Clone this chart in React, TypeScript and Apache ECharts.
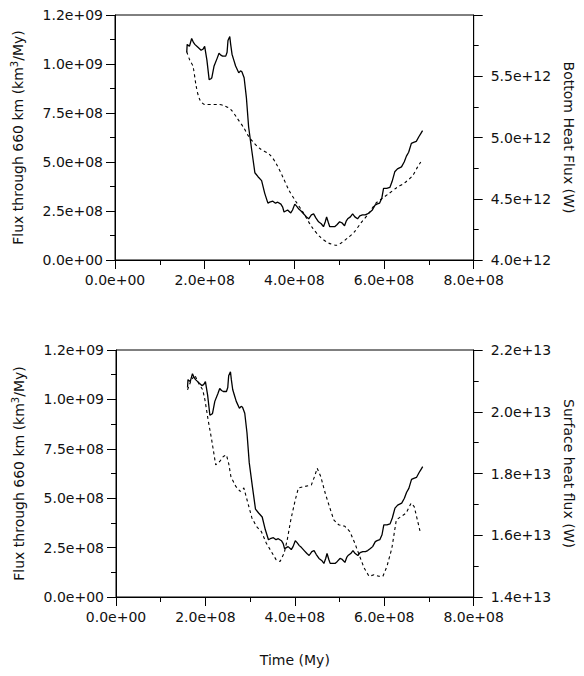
import React, { useEffect, useRef } from "react";
import * as echarts from "echarts";

// Time axis values (units of 1e8 My) for the flux-through-660-km curve
const SOLID_T = [1.60,1.61,1.66,1.71,1.75,1.78,1.85,1.92,1.96,2.00,2.05,2.10,2.14,2.16,2.21,2.28,2.32,2.36,2.40,2.47,2.50,2.52,2.56,2.58,2.61,2.65,2.69,2.76,2.80,2.83,2.88,2.93,2.98,3.05,3.12,3.19,3.27,3.34,3.41,3.45,3.52,3.58,3.63,3.70,3.74,3.77,3.85,3.92,3.96,4.01,4.05,4.10,4.15,4.21,4.27,4.32,4.38,4.43,4.48,4.54,4.60,4.65,4.69,4.72,4.76,4.79,4.85,4.90,4.95,5.01,5.06,5.12,5.16,5.19,5.25,5.30,5.35,5.41,5.46,5.52,5.58,5.63,5.69,5.74,5.80,5.84,5.90,5.95,5.99,6.06,6.13,6.18,6.24,6.30,6.39,6.45,6.50,6.55,6.61,6.66,6.72,6.78,6.82,6.86];
// Flux through 660 km (units of 1e8 km^3/My)
const SOLID_FLUX = [10.6,11.0,10.9,11.3,11.1,11.0,10.85,10.7,10.75,10.9,10.2,9.2,9.25,9.3,9.9,10.3,10.55,10.45,10.4,10.4,10.6,11.2,11.4,11.0,10.5,10.2,9.9,9.55,9.65,9.6,9.3,8.3,6.8,5.6,4.45,4.25,4.05,3.4,2.9,2.95,3.0,2.9,2.95,2.85,2.7,2.45,2.55,2.4,2.55,2.85,2.75,2.6,2.5,2.35,2.2,2.1,2.3,2.35,2.15,1.95,1.85,1.7,1.95,2.2,1.9,1.7,1.7,1.7,1.8,1.95,1.9,1.75,2.0,2.1,2.2,2.35,2.2,2.1,2.25,2.3,2.3,2.35,2.45,2.55,2.8,2.85,2.9,3.15,3.65,3.65,3.7,4.0,4.5,4.65,4.75,5.0,5.3,5.5,5.95,6.0,6.05,6.3,6.45,6.6];

// Bottom heat flux (top panel, dashed): time (1e8 My), value (1e12 W)
const BOTTOM_T = [1.60,1.67,1.74,1.81,1.89,2.00,2.14,2.29,2.43,2.58,2.72,2.87,2.98,3.09,3.23,3.45,3.59,3.74,3.88,4.03,4.21,4.39,4.57,4.76,4.94,5.05,5.19,5.34,5.48,5.66,5.81,5.95,6.10,6.28,6.46,6.64,6.75,6.82];
const BOTTOM_HF = [5.70,5.63,5.58,5.42,5.31,5.27,5.27,5.27,5.26,5.23,5.16,5.08,5.01,4.96,4.91,4.86,4.79,4.68,4.57,4.48,4.38,4.27,4.19,4.14,4.12,4.14,4.18,4.23,4.30,4.38,4.46,4.50,4.54,4.59,4.63,4.69,4.76,4.80];

// Surface heat flux (bottom panel, dashed): time (1e8 My), value (1e13 W)
const SURFACE_T = [1.60,1.67,1.76,1.85,1.94,1.99,2.06,2.14,2.23,2.32,2.40,2.47,2.52,2.57,2.68,2.78,2.86,2.93,3.04,3.14,3.25,3.36,3.47,3.58,3.67,3.76,3.83,3.91,4.01,4.08,4.22,4.37,4.44,4.50,4.58,4.68,4.76,4.87,4.98,5.12,5.23,5.34,5.45,5.55,5.66,5.77,5.88,5.97,6.06,6.17,6.27,6.38,6.49,6.60,6.67,6.74,6.81];
const SURFACE_HF = [2.071,2.098,2.119,2.092,2.071,2.038,1.974,1.909,1.828,1.839,1.855,1.860,1.833,1.790,1.758,1.742,1.753,1.715,1.656,1.629,1.612,1.575,1.548,1.521,1.515,1.542,1.585,1.650,1.715,1.753,1.758,1.763,1.790,1.817,1.790,1.736,1.699,1.650,1.634,1.629,1.612,1.575,1.532,1.494,1.467,1.472,1.467,1.467,1.499,1.558,1.650,1.661,1.672,1.704,1.693,1.650,1.607];

// Tick values and labels
const X_TICKS = [0, 2e8, 4e8, 6e8, 8e8];
const X_LABELS = ["0.0e+00", "2.0e+08", "4.0e+08", "6.0e+08", "8.0e+08"];
const LEFT_TICKS = [0, 2.5e8, 5e8, 7.5e8, 1e9, 1.25e9];
const LEFT_LABELS = ["0.0e+00", "2.5e+08", "5.0e+08", "7.5e+08", "1.0e+09", "1.2e+09"];
const BHF_TICKS = [4e12, 4.5e12, 5e12, 5.5e12];
const BHF_LABELS = ["4.0e+12", "4.5e+12", "5.0e+12", "5.5e+12"];
const SHF_TICKS = [1.4e13, 1.6e13, 1.8e13, 2.0e13, 2.2e13];
const SHF_LABELS = ["1.4e+13", "1.6e+13", "1.8e+13", "2.0e+13", "2.2e+13"];

const FONT = "DejaVu Sans";
const INK = "#111";
const FS = 14;

function lookup(vals: number[], labels: string[]) {
  return (v: number) => {
    for (let i = 0; i < vals.length; i++) {
      const tol = Math.max(Math.abs(vals[i]), 1) * 1e-6 + 1e-6 * Math.abs(vals[vals.length - 1]);
      if (Math.abs(vals[i] - v) <= tol) return labels[i];
    }
    return "";
  };
}

function pairs(t: number[], v: number[], tScale: number, vScale: number) {
  return t.map((x, i) => [x * tScale, v[i] * vScale]);
}

const axisCommon = {
  axisLine: { show: true, onZero: false, lineStyle: { color: "#000", width: 1 } },
  axisTick: { show: true, length: 9, lineStyle: { color: "#000", width: 1 } },
  minorTick: { show: true, splitNumber: 2, length: 5, lineStyle: { color: "#000", width: 1 } },
  splitLine: { show: false },
  minorSplitLine: { show: false },
};

const labelStyle = { color: INK, fontSize: FS, fontFamily: FONT };

export default function App() {
  const ref = useRef<HTMLDivElement>(null);
  useEffect(() => {
    if (!ref.current) return;
    const chart = echarts.init(ref.current, null, { renderer: "svg" });
    const xAxis = (gridIndex: number, extra: any = {}) => ({
      gridIndex,
      type: "value",
      min: 0,
      max: 8e8,
      interval: 2e8,
      ...axisCommon,
      axisLabel: { ...labelStyle, margin: 13, formatter: lookup(X_TICKS, X_LABELS) },
      ...extra,
    });
    const leftName = "Flux through 660 km (km{sup|3}/My)";
    const leftAxis = (gridIndex: number) => ({
      gridIndex,
      type: "value",
      position: "left",
      min: 0,
      max: 1.25e9,
      interval: 2.5e8,
      ...axisCommon,
      axisLabel: { ...labelStyle, margin: 12, formatter: lookup(LEFT_TICKS, LEFT_LABELS) },
      name: leftName,
      nameLocation: "middle",
      nameGap: 89,
      nameRotate: 90,
      nameTextStyle: {
        color: INK,
        fontSize: FS,
        fontFamily: FONT,
        rich: { sup: { fontSize: 10, fontFamily: FONT, color: INK, padding: [0, 0, 7, 0] } },
      },
    });
    const option: any = {
      animation: false,
      textStyle: { fontFamily: FONT },
      grid: [
        { left: 115, top: 15, width: 367, height: 245, show: true, borderColor: "#000", borderWidth: 1, backgroundColor: "transparent" },
        { left: 116, top: 350, width: 371, height: 247, show: true, borderColor: "#000", borderWidth: 1, backgroundColor: "transparent" },
      ],
      xAxis: [
        xAxis(0),
        xAxis(1, {
          name: "Time (My)",
          nameLocation: "middle",
          nameGap: 56,
          nameTextStyle: { color: INK, fontSize: FS, fontFamily: FONT },
        }),
      ],
      yAxis: [
        leftAxis(0),
        {
          gridIndex: 0,
          type: "value",
          position: "right",
          min: 4e12,
          max: 6e12,
          interval: 5e11,
          ...axisCommon,
          axisLabel: { ...labelStyle, margin: 17, formatter: lookup(BHF_TICKS, BHF_LABELS) },
          name: "Bottom Heat Flux (W)",
          nameLocation: "middle",
          nameGap: 84,
          nameRotate: -90,
          nameTextStyle: { color: INK, fontSize: FS, fontFamily: FONT },
        },
        leftAxis(1),
        {
          gridIndex: 1,
          type: "value",
          position: "right",
          min: 1.4e13,
          max: 2.2e13,
          interval: 2e12,
          ...axisCommon,
          axisLabel: { ...labelStyle, margin: 17, formatter: lookup(SHF_TICKS, SHF_LABELS) },
          name: "Surface heat flux (W)",
          nameLocation: "middle",
          nameGap: 80,
          nameRotate: -90,
          nameTextStyle: { color: INK, fontSize: FS, fontFamily: FONT },
        },
      ],
      series: [
        {
          type: "line",
          xAxisIndex: 0,
          yAxisIndex: 0,
          data: pairs(SOLID_T, SOLID_FLUX, 1e8, 1e8),
          showSymbol: false,
          lineStyle: { color: "#000", width: 1.3 },
        },
        {
          type: "line",
          xAxisIndex: 0,
          yAxisIndex: 1,
          data: pairs(BOTTOM_T, BOTTOM_HF, 1e8, 1e12),
          showSymbol: false,
          smooth: 0.3,
          lineStyle: { color: "#000", width: 1.1, type: [3, 3] },
        },
        {
          type: "line",
          xAxisIndex: 1,
          yAxisIndex: 2,
          data: pairs(SOLID_T, SOLID_FLUX, 1e8, 1e8),
          showSymbol: false,
          lineStyle: { color: "#000", width: 1.3 },
        },
        {
          type: "line",
          xAxisIndex: 1,
          yAxisIndex: 3,
          data: pairs(SURFACE_T, SURFACE_HF, 1e8, 1e13),
          showSymbol: false,
          lineStyle: { color: "#000", width: 1.1, type: [3, 3] },
        },
      ],
    };
    chart.setOption(option);
    return () => chart.dispose();
  }, []);
  return (
    <div
      ref={ref}
      style={{ position: "fixed", left: 0, top: 0, width: 584, height: 676, background: "#fff" }}
    />
  );
}
